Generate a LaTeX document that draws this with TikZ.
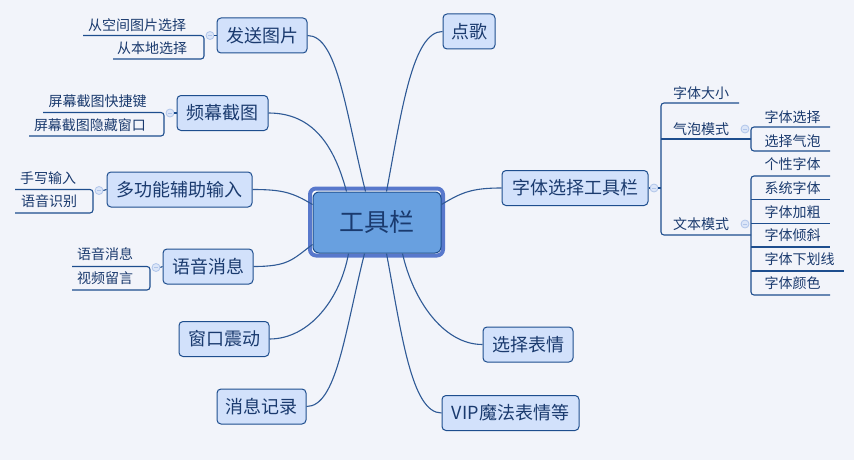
\documentclass[tikz,border=0pt]{standalone}
\usepackage{fontspec}
\newfontfamily\cjk{Noto Sans CJK SC}
\definecolor{bgc}{HTML}{F2F4FA}
\definecolor{boxfill}{HTML}{D2E1FB}
\definecolor{boxline}{HTML}{1E4E8E}
\definecolor{txt}{HTML}{1A3A6E}
\definecolor{conn}{HTML}{2F5A96}
\definecolor{ring}{HTML}{5878CC}
\definecolor{cfill}{HTML}{68A0E0}
\definecolor{dotfill}{HTML}{DCE6F8}
\definecolor{dotline}{HTML}{B0C5EA}
\tikzset{
  topic/.style={draw=boxline, fill=boxfill, line width=1pt, rounded corners=4pt,
    minimum height=35pt, inner sep=0pt, text=txt, font=\cjk\fontsize{18}{18}\selectfont},
  sub/.style={inner sep=0pt, text=txt, font=\cjk\fontsize{14}{14}\selectfont},
  link/.style={draw=conn, line width=1.1pt},
  uline/.style={draw=boxline, line width=1.1pt, rounded corners=3pt},
  knob/.style={circle, draw=dotline, fill=dotfill, line width=0.8pt, minimum size=8pt, inner sep=0pt,
    path picture={\draw[dotline, line width=0.8pt] ([xshift=-2pt]path picture bounding box.center) -- ([xshift=2pt]path picture bounding box.center);}}
}
\begin{document}
\begin{tikzpicture}[x=1pt,y=-1pt]
\fill[bgc] (0,0) rectangle (854,460);
\useasboundingbox (0,0) rectangle (854,460);

% central topic
\node[draw=ring, fill=white, line width=4pt, rounded corners=6pt, minimum width=133pt, minimum height=67pt, inner sep=0pt] (ring) at (376.5,222) {};
\node[draw=boxline, fill=cfill, line width=1pt, rounded corners=6pt, minimum width=128pt, minimum height=61pt, inner sep=0pt,
  text=txt, font=\cjk\fontsize{25}{25}\selectfont] (c) at (377,222.5) {工具栏};

% main topics
\node[topic, minimum width=90pt] (fstp) at (262,35.5) {发送图片};
\node[topic, minimum width=91pt] (pmjt) at (222.5,113) {频幕截图};
\node[topic, minimum width=145pt] (dgn) at (179.5,189.5) {多功能辅助输入};
\node[topic, minimum width=90pt] (yyxx) at (208,266.5) {语音消息};
\node[topic, minimum width=90pt] (ckzd) at (224,339) {窗口震动};
\node[topic, minimum width=89pt] (xxjl) at (261.5,406.5) {消息记录};
\node[topic, minimum width=52pt] (dg) at (469,31.5) {点歌};
\node[topic, minimum width=146pt] (ztgj) at (575,188) {字体选择工具栏};
\node[topic, minimum width=90pt] (xzbq) at (528,344.5) {选择表情};
\node[topic, minimum width=137pt] (vip) at (510.5,413) {VIP魔法表情等};

% connectors from the central topic
\draw[link] ([xshift=34pt]c.north west) .. controls +(-12,-45) and +(45,0) .. (pmjt.east);
\draw[link] ([xshift=53pt]c.north west) .. controls +(-20,-80) and +(30,0) .. (fstp.east);
\draw[link] ([xshift=74pt]c.north west) .. controls +(15,-80) and +(-30,0) .. (dg.west);
\draw[link] ([yshift=-13pt]c.north east) .. controls +(20,-12) and +(-30,0) .. (ztgj.west);
\draw[link] ([yshift=-13pt]c.north west) .. controls +(-20,-12) and +(30,0) .. (dgn.east);
\draw[link] ([yshift=9pt]c.south west) .. controls +(-20,15) and +(35,0) .. (yyxx.east);
\draw[link] ([xshift=36pt]c.south west) .. controls +(-8,45) and +(40,0) .. (ckzd.east);
\draw[link] ([xshift=52pt]c.south west) .. controls +(-20,80) and +(30,0) .. (xxjl.east);
\draw[link] ([xshift=74pt]c.south west) .. controls +(15,80) and +(-30,0) .. (vip.west);
\draw[link] ([xshift=90pt]c.south west) .. controls +(10,45) and +(-40,0) .. (xzbq.west);

% ---- subtopics: 发送图片
\node[sub] (s11) at (137,25) {从空间图片选择};
\node[sub] (s12) at (152,48) {从本地选择};
\coordinate (b1t) at (204,35.5); \coordinate (b1b) at (204,59);
\draw[uline] (83,35.5) -- (b1t) -- (b1b) -- (113,59);
\node[knob] (k1) at (210,35.5) {};
\draw[uline] (k1.east) -- (fstp.west);

% ---- 频幕截图
\node[sub] (s21) at (97.5,101) {屏幕截图快捷键};
\node[sub] (s22) at (90,125.5) {屏幕截图隐藏窗口};
\coordinate (b2t) at (164,112.5); \coordinate (b2b) at (164,136);
\draw[uline] (43,112.5) -- (b2t) -- (b2b) -- (29,136);
\node[knob] (k2) at (170,113) {};
\draw[uline] (k2.east) -- (pmjt.west);

% ---- 多功能辅助输入
\node[sub] (s31) at (48,178.5) {手写输入};
\node[sub] (s32) at (49,201.5) {语音识别};
\coordinate (b3t) at (93,189.5); \coordinate (b3b) at (93,213);
\draw[uline] (15,189.5) -- (b3t) -- (b3b) -- (15,213);
\node[knob] (k3) at (99,190.5) {};
\draw[uline] (k3.east) -- (dgn.west);

% ---- 语音消息
\node[sub] (s41) at (105,254) {语音消息};
\node[sub] (s42) at (105,278) {视频留言};
\coordinate (b4t) at (150,266.5); \coordinate (b4b) at (150,290);
\draw[uline] (72,266.5) -- (b4t) -- (b4b) -- (72,290);
\node[knob] (k4) at (156,267.5) {};
\draw[uline] (k4.east) -- (yyxx.west);

% ---- 字体选择工具栏
\node[knob] (k5) at (654,188) {};
\draw[uline] (ztgj.east) -- (k5.west);
\draw[uline] (k5.east) -- (661,188);
\node[sub] (f1) at (701,93) {字体大小};
\node[sub] (f2) at (701,129) {气泡模式};
\node[sub] (f3) at (701,224) {文本模式};
\draw[uline] (739,103) -- (661,103) -- (661,235) -- (751,235);
\draw[uline] (661,139) -- (751,139);

% 气泡模式 children
\node[knob] (k6) at (745,129) {};
\node[sub] (g1) at (792.5,117) {字体选择};
\node[sub] (g2) at (792.5,141) {选择气泡};
\draw[uline] (830,127) -- (751,127) -- (751,151) -- (830,151);

% 文本模式 children
\node[knob] (k7) at (745,224) {};
\node[sub] (h1) at (792.5,164.5) {个性字体};
\node[sub] (h2) at (792.5,188) {系统字体};
\node[sub] (h3) at (792.5,212) {字体加粗};
\node[sub] (h4) at (792.5,235.5) {字体倾斜};
\node[sub] (h5) at (799.5,259.5) {字体下划线};
\node[sub] (h6) at (792.5,283.5) {字体颜色};
\draw[uline] (830,176) -- (751,176) -- (751,295) -- (830,295);
\draw[uline] (751,199.5) -- (830,199.5);
\draw[uline] (751,223.5) -- (830,223.5);
\draw[uline] (751,247) -- (830,247);
\draw[uline] (751,271) -- (844,271);
\end{tikzpicture}
\end{document}
